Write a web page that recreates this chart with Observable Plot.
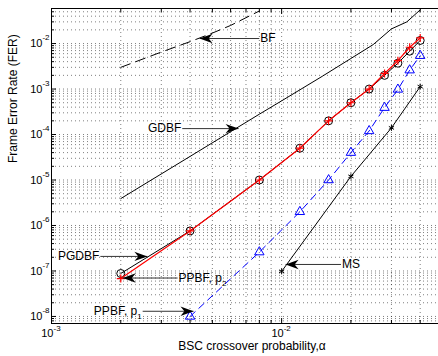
<!DOCTYPE html>
<html><head><meta charset="utf-8">
<script src="https://cdn.jsdelivr.net/npm/d3@7"></script>
<script src="https://cdn.jsdelivr.net/npm/@observablehq/plot@0.6"></script>
<style>
html,body{margin:0;padding:0;overflow:hidden;background:#fff;}
#chart{width:442px;height:356px;}
</style></head><body><div id="chart"></div>
<script>
// ---- data ----
const alphaPts   = [0.002,0.004,0.008,0.012,0.016,0.02,0.024,0.028,0.032,0.036,0.04];
const pgdbfFER   = [8.8e-8,7.6e-7,1.0e-5,5.0e-5,2.0e-4,5.0e-4,1.0e-3,2.0e-3,3.7e-3,6.8e-3,1.17e-2];
const ppbfP2FER  = [6.8e-8,7.6e-7,1.0e-5,5.0e-5,2.0e-4,5.0e-4,1.0e-3,2.2e-3,4.2e-3,8.3e-3,1.33e-2];
const ppbfP1Alpha= [0.004,0.008,0.012,0.016,0.02,0.024,0.028,0.032,0.036,0.04];
const ppbfP1FER  = [1.0e-8,2.6e-7,2.0e-6,1.0e-5,4.0e-5,1.2e-4,3.9e-4,9.8e-4,2.6e-3,5.4e-3];
const msAlpha    = [0.01,0.02,0.03,0.04];
const msFER      = [9.8e-8,1.2e-5,1.4e-4,1.13e-3];
const gdbfAlpha  = [0.002,0.004,0.008,0.01,0.015,0.02,0.025,0.03,0.035,0.04];
const gdbfFER    = [3.9e-6,3.3e-5,2.8e-4,5.5e-4,1.9e-3,4.7e-3,9.5e-3,2.1e-2,3.0e-2,5.5e-2];
const bfAlpha    = [0.002,0.003,0.004,0.005,0.006,0.008];
const bfFER      = [3.0e-3,6.5e-3,1.1e-2,1.7e-2,2.5e-2,5.2e-2];

// annotations (text arrows), in data coordinates
const annText  = ["BF","GDBF","PGDBF","PPBF, p_2","PPBF, p_1","MS"];
const annTailX = [0.0080,0.0037,0.00163,0.00353,0.00249,0.0181];
const annHeadX = [0.0044,0.0065,0.00261,0.00204,0.00414,0.0104];
const annY     = [0.0129,1.35e-4,2.09e-7,7.0e-8,1.3e-8,1.39e-7];

// axes
const xDomain = [0.001, 0.05];
const yDomain = [7e-9, 0.059];
const xMajor = [1e-3, 1e-2];
const xTickExps = ["-3","-2"];
const yMajor = [1e-8,1e-7,1e-6,1e-5,1e-4,1e-3,1e-2];
const yTickExps = ["-8","-7","-6","-5","-4","-3","-2"];
const xTitle = "BSC crossover probability,\u03b1";
const yTitle = "Frame Error Rate (FER)";

// ---- helpers ----
const mult = [2,3,4,5,6,7,8,9];
const xMinor = xMajor.flatMap(m => mult.map(k => k*m)).filter(v => v <= xDomain[1]*1.0001);
const yMinor = [1e-9, ...yMajor].flatMap(m => mult.map(k => k*m)).filter(v => v >= yDomain[0] && v <= yDomain[1]);
const xGrid = [...xMajor, ...xMinor];
const yGrid = [...yMajor, ...yMinor];

const series = (xs, ys) => xs.map((x, i) => ({x, y: ys[i]}));
const pgdbf = series(alphaPts, pgdbfFER);
const ppbf2 = series(alphaPts, ppbfP2FER);
const ppbf1 = series(ppbfP1Alpha, ppbfP1FER);
const ms = series(msAlpha, msFER);
const gdbf = series(gdbfAlpha, gdbfFER);
const bf = series(bfAlpha, bfFER);
const ann = annText.map((t, i) => ({t, x1: annTailX[i], x2: annHeadX[i], y: annY[i], left: annHeadX[i] < annTailX[i]}));
const annLeft = ann.filter(d => d.left);
const annRight = ann.filter(d => !d.left);

const arrowHead = {
  draw(ctx, size) {
    const s = Math.sqrt(size / Math.PI);
    ctx.moveTo(0, 0);
    ctx.lineTo(-s, -0.36*s);
    ctx.lineTo(-0.7*s, 0);
    ctx.lineTo(-s, 0.36*s);
    ctx.closePath();
  }
};

const gridStyle = {stroke: "#000", strokeOpacity: 0.5, strokeDasharray: "1,3"};

const chart = Plot.plot({
  width: 442, height: 356,
  marginLeft: 51, marginRight: 0, marginTop: 8, marginBottom: 33,
  x: {type: "log", domain: xDomain},
  y: {type: "log", domain: yDomain},
  style: {fontFamily: "'Liberation Sans', Arial, Helvetica, sans-serif", fontSize: "12px", background: "white", maxWidth: "none", overflow: "visible", color: "black"},
  marks: [
    Plot.gridX(xGrid, gridStyle),
    Plot.gridY(yGrid, gridStyle),
    Plot.axisX(xMajor, {anchor: "bottom", tickSize: -5, tickFormat: () => "", label: null}),
    Plot.axisX(xMinor, {anchor: "bottom", tickSize: -3, tickFormat: () => "", label: null}),
    Plot.axisX(xMajor, {anchor: "top", tickSize: -5, tickFormat: () => "", label: null}),
    Plot.axisX(xMinor, {anchor: "top", tickSize: -3, tickFormat: () => "", label: null}),
    Plot.axisY(yMajor, {anchor: "left", tickSize: -5, tickFormat: () => "", label: null}),
    Plot.axisY(yMinor, {anchor: "left", tickSize: -3, tickFormat: () => "", label: null}),
    Plot.frame({stroke: "black", strokeWidth: 1}),
    // tick labels
    Plot.text(yMajor, {y: d => d, frameAnchor: "left", text: () => "10", textAnchor: "end", dx: -9, fontSize: 11}),
    Plot.text(yMajor, {y: d => d, frameAnchor: "left", text: (d, i) => yTickExps[i], textAnchor: "end", dx: -2, dy: -6, fontSize: 8}),
    Plot.text(xMajor, {x: d => d, frameAnchor: "bottom", text: () => "10", textAnchor: "end", dx: 2, dy: 13, fontSize: 11}),
    Plot.text(xMajor, {x: d => d, frameAnchor: "bottom", text: (d, i) => xTickExps[i], textAnchor: "start", dx: 2, dy: 7, fontSize: 8}),
    // axis titles
    Plot.text([xTitle], {frameAnchor: "bottom", text: d => d, dx: 5, dy: 26, fontSize: 12}),
    Plot.text([yTitle], {frameAnchor: "left", text: d => d, rotate: -90, dx: -38, dy: -3, fontSize: 12}),
    // series
    Plot.line(bf, {x: "x", y: "y", stroke: "black", strokeWidth: 1, strokeDasharray: "10,6"}),
    Plot.line(gdbf, {x: "x", y: "y", stroke: "black", strokeWidth: 1}),
    Plot.line(pgdbf, {x: "x", y: "y", stroke: "black", strokeWidth: 1}),
    Plot.dot(pgdbf, {x: "x", y: "y", symbol: "circle", r: 4, stroke: "black", fill: "none", strokeWidth: 1}),
    Plot.line(ppbf2, {x: "x", y: "y", stroke: "#ff0000", strokeWidth: 1.2}),
    Plot.dot(ppbf2, {x: "x", y: "y", symbol: "plus", r: 2.7, stroke: "#ff0000", strokeWidth: 1.2}),
    Plot.line(ppbf1, {x: "x", y: "y", stroke: "#0000ff", strokeWidth: 1, strokeDasharray: "7,5"}),
    Plot.dot(ppbf1, {x: "x", y: "y", symbol: "triangle", r: 3.5, stroke: "#0000ff", fill: "none", strokeWidth: 1}),
    Plot.line(ms, {x: "x", y: "y", stroke: "black", strokeWidth: 1}),
    Plot.dot(ms, {x: "x", y: "y", symbol: "asterisk", r: 2.8, stroke: "black", strokeWidth: 1}),
    // annotations
    Plot.link(ann, {x1: "x1", x2: "x2", y1: "y", y2: "y", stroke: "#333", strokeWidth: 1}),
    Plot.dot(ann, {x: "x2", y: "y", symbol: arrowHead, r: 13, fill: "black", stroke: "none", rotate: d => d.left ? 180 : 0}),
    Plot.text(annLeft, {x: "x1", y: "y", text: "t", textAnchor: "start", dx: 1, fontSize: 12}),
    Plot.text(annRight, {x: "x1", y: "y", text: "t", textAnchor: "end", dx: -1, fontSize: 12})
  ]
});

// subscripts for "p_1" / "p_2"
chart.querySelectorAll("text").forEach(el => {
  const s = el.textContent;
  if (el.children.length === 0 && s.includes("_")) {
    const [main, sub] = s.split("_");
    el.textContent = main;
    const ts = document.createElementNS("http://www.w3.org/2000/svg", "tspan");
    ts.setAttribute("font-size", "8");
    ts.setAttribute("dy", "4");
    ts.textContent = sub;
    el.appendChild(ts);
  }
});
document.getElementById("chart").appendChild(chart);
</script>
</body></html>
